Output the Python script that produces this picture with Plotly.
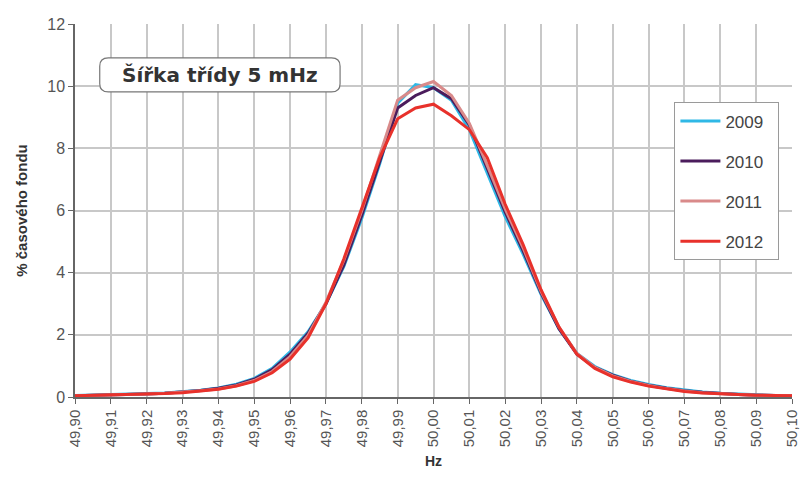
import plotly.graph_objects as go

freq = [round(49.900 + 0.005 * i, 3) for i in range(41)]

s2009 = [0.05,0.06,0.07,0.09,0.11,0.13,0.17,0.22,0.29,0.41,0.60,0.92,1.45,2.1,3.0,4.2,5.75,7.5,9.45,10.05,
         9.95,9.55,8.6,7.2,5.8,4.6,3.3,2.2,1.4,0.98,0.72,0.53,0.40,0.30,0.22,0.16,0.12,0.09,0.07,0.05,0.04]
s2010 = [0.04,0.05,0.07,0.08,0.10,0.12,0.16,0.21,0.28,0.39,0.57,0.88,1.38,2.05,3.0,4.25,5.85,7.6,9.3,9.7,
         9.95,9.6,8.75,7.35,5.95,4.7,3.35,2.2,1.38,0.95,0.70,0.51,0.38,0.28,0.20,0.15,0.11,0.08,0.06,0.05,0.04]
s2011 = [0.04,0.05,0.06,0.08,0.10,0.12,0.15,0.20,0.26,0.36,0.53,0.82,1.3,1.98,3.05,4.4,6.0,7.75,9.55,9.95,
         10.15,9.7,8.8,7.45,6.05,4.8,3.4,2.25,1.4,0.95,0.68,0.50,0.37,0.27,0.19,0.14,0.10,0.08,0.06,0.05,0.04]
s2012 = [0.04,0.05,0.06,0.07,0.09,0.11,0.14,0.19,0.25,0.35,0.50,0.78,1.22,1.9,3.0,4.45,6.1,7.7,8.95,9.3,
         9.42,9.05,8.6,7.7,6.2,4.9,3.45,2.25,1.38,0.92,0.65,0.48,0.35,0.26,0.18,0.13,0.10,0.07,0.06,0.05,0.04]

series_names = ["2009", "2010", "2011", "2012"]
series_values = [s2009, s2010, s2011, s2012]
series_colors = ["#2fb8e6", "#4b1c5c", "#d98a8a", "#e8312b"]

tick_vals = [round(49.90 + 0.01 * i, 2) for i in range(21)]
tick_text = [f"{v:.2f}".replace(".", ",") for v in tick_vals]

fig = go.Figure()
for name, vals, col in zip(series_names, series_values, series_colors):
    fig.add_trace(go.Scatter(x=freq, y=vals, mode="lines", name=name + "\u00a0\u00a0", legendgroup=name,
                             line=dict(color=col, width=3)))

font_main = "Liberation Sans, Arial, sans-serif"
fig.update_layout(
    width=808, height=493,
    margin=dict(l=75, r=8, t=24, b=96),
    paper_bgcolor="white", plot_bgcolor="white",
    font=dict(family=font_main, color="#555555"),
    showlegend=True,
    legend=dict(x=0.836, y=0.79, xanchor="left", yanchor="top",
                bgcolor="white", bordercolor="#9a9a9a", borderwidth=1,
                font=dict(size=17, color="#444444"),
                traceorder="grouped", tracegroupgap=15, itemwidth=40),
    xaxis=dict(range=[49.90, 50.10], tickmode="array", tickvals=tick_vals, ticktext=tick_text,
               tickangle=-90, tickfont=dict(size=15, color="#555555"),
               showgrid=True, gridcolor="#c8c8c8", gridwidth=1.5,
               showline=True, linecolor="#666666", linewidth=1.5,
               ticks="outside", ticklen=5, tickcolor="#666666",
               zeroline=False,
               title=dict(text="<b>Hz</b>", font=dict(size=14, color="#333333"), standoff=10)),
    yaxis=dict(range=[0, 12], tickmode="array", tickvals=[0, 2, 4, 6, 8, 10, 12],
               tickfont=dict(size=16, color="#555555"),
               showgrid=True, gridcolor="#c8c8c8", gridwidth=1.5,
               showline=True, linecolor="#666666", linewidth=1.5,
               ticks="outside", ticklen=5, tickcolor="#666666",
               zeroline=False,
               title=dict(text="<b>% časového fondu</b>", font=dict(size=15, color="#333333"), standoff=16)),
)

# rounded label box
x0, x1, y0, y1 = 0.0345, 0.3697, 0.818, 0.909
rx, ry = 0.012, 0.022
path = (f"M {x0+rx},{y0} L {x1-rx},{y0} Q {x1},{y0} {x1},{y0+ry} L {x1},{y1-ry} "
        f"Q {x1},{y1} {x1-rx},{y1} L {x0+rx},{y1} Q {x0},{y1} {x0},{y1-ry} "
        f"L {x0},{y0+ry} Q {x0},{y0} {x0+rx},{y0} Z")
fig.add_shape(type="path", path=path, xref="paper", yref="paper",
              line=dict(color="#777777", width=1.2), fillcolor="white", layer="above")
fig.add_annotation(x=(x0 + x1) / 2, y=(y0 + y1) / 2, xref="paper", yref="paper",
                   xanchor="center", yanchor="middle",
                   text="<b>Šířka třídy 5 mHz</b>", showarrow=False,
                   font=dict(family="DejaVu Sans, sans-serif", size=20, color="#333333"))

fig.write_html("out.html")
